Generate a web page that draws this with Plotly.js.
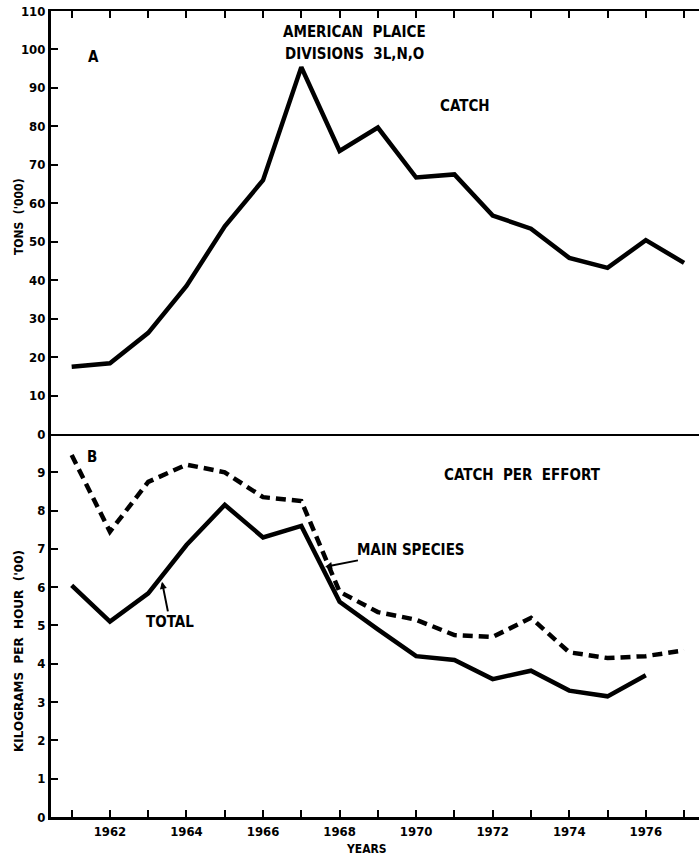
<!DOCTYPE html>
<html><head><meta charset="utf-8">
<script src="https://cdn.plot.ly/plotly-3.0.1.min.js"></script>
<style>html,body{margin:0;padding:0;background:#fff}</style>
</head><body><div id="chart" style="width:699px;height:856px"></div>
<script>
const years = [1961,1962,1963,1964,1965,1966,1967,1968,1969,1970,1971,1972,1973,1974,1975,1976,1977];
const catchTons = [17.5,18.4,26.3,38.5,54,66,95.4,73.6,79.7,66.7,67.5,56.8,53.4,45.8,43.2,50.4,44.5];
const totalYears = [1961,1962,1963,1964,1965,1966,1967,1968,1969,1970,1971,1972,1973,1974,1975,1976];
const totalCPUE = [6.05,5.1,5.84,7.1,8.15,7.3,7.6,5.62,4.9,4.2,4.1,3.6,3.82,3.3,3.15,3.7];
const mainSpeciesCPUE = [9.45,7.45,8.75,9.2,9.0,8.35,8.25,5.88,5.35,5.15,4.75,4.7,5.2,4.3,4.15,4.2,4.35];
const xTickVals = years;
const xTickText = ['','1962','','1964','','1966','','1968','','1970','','1972','','1974','','1976',''];
const topYTicks = [0,10,20,30,40,50,60,70,80,90,100,110];
const botYTicks = [0,1,2,3,4,5,6,7,8,9];

const F = "'Liberation Sans Narrow', 'DejaVu Sans Condensed', sans-serif";
const FW = "'DejaVu Sans', sans-serif";
const tickFont = {family:F, size:13, color:'#000', weight:700};
const black = '#000';

const traces = [
  {x:years, y:catchTons, xaxis:'x', yaxis:'y', mode:'lines', line:{color:black, width:4.5}, hoverinfo:'skip'},
  {x:years, y:mainSpeciesCPUE, xaxis:'x2', yaxis:'y2', mode:'lines', line:{color:black, width:4.5, dash:'10px,6px'}, hoverinfo:'skip'},
  {x:totalYears, y:totalCPUE, xaxis:'x2', yaxis:'y2', mode:'lines', line:{color:black, width:4.5}, hoverinfo:'skip'}
];

const xr = [1960.46, 1977.39];
const split = 0.4752;
const py = p => (856-39-p)/806;   // pixel row -> paper y
const px = p => (p-51)/648;       // pixel column -> paper x
const ann = (text, x, y, xref, yref, size, extra) => Object.assign({text, x, y, xref, yref, showarrow:false,
  xanchor:'center', yanchor:'middle',
  font:{family:F, size:size, color:black, weight:700}}, extra||{});

const layout = {
  width:699, height:856,
  margin:{l:51, r:0, t:11, b:39},
  paper_bgcolor:'#fff', plot_bgcolor:'#fff',
  showlegend:false,
  xaxis:{domain:[0,1], range:xr, anchor:'y', side:'top', showticklabels:false,
    tickvals:xTickVals, ticks:'inside', ticklen:7, tickwidth:2, tickcolor:black,
    showline:true, linewidth:2.5, linecolor:black, mirror:true, showgrid:false, zeroline:false},
  yaxis:{domain:[split,1], range:[0,110], anchor:'x', tickvals:topYTicks,
    ticks:'inside', ticklen:7, tickwidth:2, tickcolor:black, tickfont:tickFont,
    showline:true, linewidth:3, linecolor:black, showgrid:false, zeroline:false},
  xaxis2:{domain:[0,1], range:xr, anchor:'y2', tickvals:xTickVals, ticktext:xTickText,
    ticks:'inside', ticklen:7, tickwidth:2, tickcolor:black, tickfont:tickFont,
    showline:true, linewidth:3, linecolor:black, showgrid:false, zeroline:false},
  yaxis2:{domain:[0,split], range:[0,10], anchor:'x2', tickvals:botYTicks,
    ticks:'inside', ticklen:7, tickwidth:2, tickcolor:black, tickfont:tickFont,
    showline:true, linewidth:3, linecolor:black, showgrid:false, zeroline:false},
  annotations:[
    ann('A', 1961.56, 98, 'x', 'y', 15),
    ann('AMERICAN  PLAICE', 1968.4, 104.5, 'x', 'y', 15),
    ann('DIVISIONS  3L,N,O', 1968.4, 98.8, 'x', 'y', 15),
    ann('CATCH', 1971.28, 85.2, 'x', 'y', 15),
    ann('B', 1961.53, 9.4, 'x2', 'y2', 15),
    ann('CATCH  PER  EFFORT', 1972.79, 8.93, 'x2', 'y2', 15),
    ann('MAIN SPECIES', 1967.62, 6.53, 'x2', 'y2', 15, {showarrow:true, ax:86, ay:-17, arrowhead:2, arrowsize:0.7, arrowwidth:2, arrowcolor:black}),
    ann('TOTAL', 1963.36, 6.14, 'x2', 'y2', 15, {showarrow:true, ax:8, ay:40, arrowhead:2, arrowsize:0.7, arrowwidth:2, arrowcolor:black}),
    ann("TONS  ('000)", px(19), py(217), 'paper', 'paper', 12, {textangle:-90}),
    ann("KILOGRAMS  PER  HOUR  ('00)", px(19), py(651), 'paper', 'paper', 12, {textangle:-90, font:{family:FW, size:12, color:black, weight:700}}),
    ann('YEARS', px(366), py(849), 'paper', 'paper', 12)
  ]
};
Plotly.newPlot('chart', traces, layout, {displayModeBar:false, staticPlot:true});
</script></body></html>
